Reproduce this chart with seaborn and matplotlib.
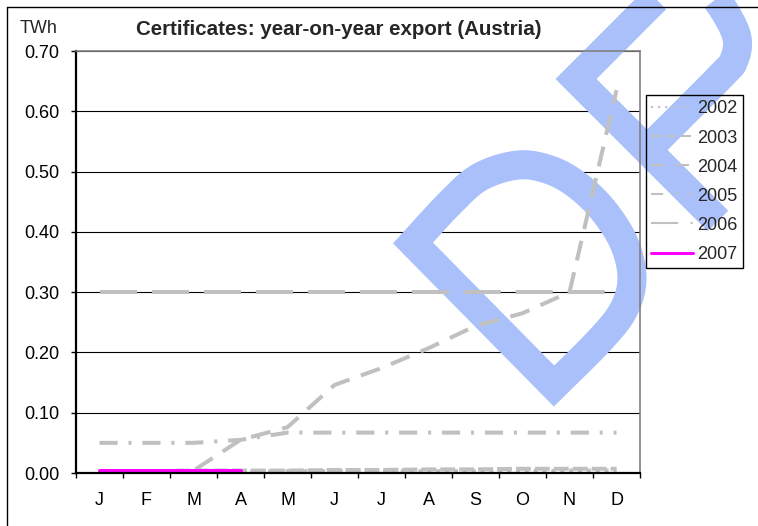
import numpy as np
import pandas as pd
import matplotlib
matplotlib.use("Agg")
import matplotlib.pyplot as plt
import matplotlib.transforms as mtransforms
from matplotlib.lines import Line2D
from matplotlib.path import Path
from matplotlib.patches import PathPatch
import seaborn as sns

# monthly export values in TWh
months = ["J", "F", "M", "A", "M", "J", "J", "A", "S", "O", "N", "D"]
years = ["2002", "2003", "2004", "2005", "2006", "2007"]
y2002 = [0.002, 0.002, 0.002, 0.002, 0.003, 0.003, 0.003, 0.003, 0.003, 0.003, 0.004, 0.004]
y2003 = [0.003, 0.003, 0.004, 0.004, 0.004, 0.005, 0.005, 0.006, 0.006, 0.007, 0.007, 0.007]
y2004 = [0.001, 0.002, 0.004, 0.055, 0.076, 0.146, 0.174, 0.207, 0.244, 0.265, 0.300, 0.635]
y2005 = [0.050, 0.050, 0.050, 0.055, 0.067, 0.067, 0.067, 0.067, 0.067, 0.067, 0.067, 0.067]
y2006 = [0.300, 0.300, 0.300, 0.300, 0.300, 0.300, 0.300, 0.300, 0.300, 0.300, 0.300, 0.300]
y2007 = [0.003, 0.003, 0.003, 0.003, np.nan, np.nan, np.nan, np.nan, np.nan, np.nan, np.nan, np.nan]
yticks = [0.0, 0.1, 0.2, 0.3, 0.4, 0.5, 0.6, 0.7]

GRAY = "#c0c0c0"
MAGENTA = "#ff00ff"
palette = {"2002": GRAY, "2003": GRAY, "2004": GRAY, "2005": GRAY, "2006": GRAY, "2007": MAGENTA}
# dash patterns in units of linewidth
chart_dashes = {
    "2002": (1.0, 1.2),
    "2003": (3.7, 1.0),
    "2004": (5.0, 3.0),
    "2005": (4.5, 2.7, 0.75, 2.7),
    "2006": (9.2, 3.7),
    "2007": "",
}
legend_dashes = {
    "2002": (1.0, 2.4),
    "2003": (4.8, 2.4),
    "2004": (6.2, 5.8),
    "2005": (5.8, 5.8, 1.0, 5.8),
    "2006": (13.0, 6.0, 1.0, 6.0),
}

df = pd.DataFrame({
    "month": np.tile(np.arange(len(months)), len(years)),
    "value": np.concatenate([y2002, y2003, y2004, y2005, y2006, y2007]),
    "year": np.repeat(years, len(months)),
})


def smooth(pts, n=10):
    """Catmull-Rom curve through the given pixel points (for the watermark)."""
    p = np.asarray(pts, dtype=float)
    p = np.vstack([p[0], p, p[-1]])
    out = []
    for i in range(1, len(p) - 2):
        p0, p1, p2, p3 = p[i - 1], p[i], p[i + 1], p[i + 2]
        for t in np.linspace(0, 1, n, endpoint=False):
            t2, t3 = t * t, t * t * t
            out.append(0.5 * (2 * p1 + (-p0 + p2) * t
                              + (2 * p0 - 5 * p1 + 4 * p2 - p3) * t2
                              + (-p0 + 3 * p1 - 3 * p2 + p3) * t3))
    out.append(p[-2])
    return [tuple(q) for q in out]


sns.set_theme(style="white")
plt.rcParams["font.family"] = ["Liberation Sans", "DejaVu Sans"]

W, H = 758, 526
fig = plt.figure(figsize=(W / 100, H / 100), dpi=100)
ax = fig.add_axes([76 / W, 1 - 473 / H, (640 - 76) / W, (473 - 51) / H])
ax.patch.set_alpha(0)

# pixel coordinates (origin top-left) for decorations
px = mtransforms.Affine2D().scale(1 / W, -1 / H).translate(0, 1) + fig.transFigure

# "DR" draft watermark, between grid and data lines
wm_color = "#aac0fa"
d_bowl = smooth([(413, 243), (450, 203), (480, 177), (518, 165), (550, 170),
                 (577, 185), (603, 210), (624, 243), (632, 278), (624, 309),
                 (601, 339), (554, 386)])
d_verts = [(554, 386), (413, 243)] + d_bowl[1:] + [(0, 0)]
d_codes = [Path.MOVETO] + [Path.LINETO] * (len(d_verts) - 2) + [Path.CLOSEPOLY]
r_bowl = smooth([(576, 79), (616, 39), (655, 0), (672, -15), (690, -20),
                 (708, -10), (725, 12), (737, 38), (734, 60), (720, 77),
                 (647, 150)])
r_verts = [(718, 221)] + r_bowl
wm_paths = [Path(d_verts, d_codes), Path(r_verts)]
for path in wm_paths:
    patch = PathPatch(path, fill=False, edgecolor=wm_color, lw=20.9,
                      joinstyle="miter", capstyle="butt", transform=px,
                      clip_on=False, zorder=1)
    ax.add_patch(patch)

sns.lineplot(data=df, x="month", y="value", hue="year", style="year",
             palette=palette, dashes=chart_dashes, linewidth=2.9,
             estimator=None, sort=False, legend=False, ax=ax)

ax.set_xlim(-0.5, 11.5)
ax.set_ylim(0, 0.7)
ax.set_xlabel("")
ax.set_ylabel("")
ax.set_xticks(np.arange(len(months)))
ax.set_xticklabels(months, fontsize=13, color="black")
ax.set_xticks(np.arange(-0.5, 12, 1), minor=True)
ax.tick_params(axis="x", which="major", length=0, pad=13.4, bottom=True)
ax.tick_params(axis="x", which="minor", length=3.6, width=1, color="black",
               direction="out", bottom=True)
ax.set_yticks(yticks)
ax.set_yticklabels([f"{v:.2f}" for v in yticks], fontsize=13, color="black")
ax.tick_params(axis="y", which="major", length=3.6, width=1, color="black",
               direction="out", pad=8.5, left=True)

ax.set_axisbelow(True)
ax.yaxis.grid(True, color="black", lw=0.8)
ax.xaxis.grid(False)
for side in ("left", "bottom"):
    ax.spines[side].set_color("black")
    ax.spines[side].set_linewidth(1.6)
for side in ("top", "right"):
    ax.spines[side].set_color("#808080")
    ax.spines[side].set_linewidth(1.2)

# legend with thinner sample lines
handles = []
for yr in years:
    if yr == "2007":
        h = Line2D([], [], color=MAGENTA, lw=2.2)
    else:
        h = Line2D([], [], color=GRAY, lw=1.5, dashes=legend_dashes[yr])
    handles.append(h)
leg = ax.legend(handles, years, loc="upper left",
                bbox_to_anchor=(646 / W, 1 - 95 / H), bbox_transform=fig.transFigure,
                fontsize=13, handlelength=2.33, handletextpad=0.22,
                labelspacing=0.67, borderpad=0.3, borderaxespad=0,
                frameon=True, fancybox=False, facecolor="none",
                edgecolor="black", framealpha=1)
leg.get_frame().set_linewidth(1.0)
leg.set_zorder(5)

fig.text(20 / W, 1 - 33 / H, "TWh", fontsize=13, ha="left", va="baseline")
fig.text(339 / W, 1 - 35 / H, "Certificates: year-on-year export (Austria)",
         fontsize=14.8, fontweight="bold", ha="center", va="baseline")

# chart area border
fig.add_artist(Line2D([7, W + 5], [7, 7], color="black", lw=1.0, transform=px))
fig.add_artist(Line2D([7, 7], [7, H + 5], color="black", lw=1.0, transform=px))

fig.savefig("out.png", dpi=100)
